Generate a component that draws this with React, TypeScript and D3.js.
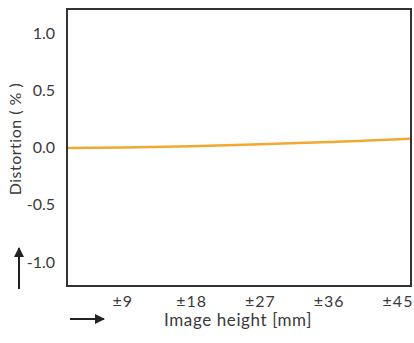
import React from "react";
import * as d3 from "d3";

const heights = [1.7, 9, 18, 27, 36, 45, 46.7];
const distortion = [-0.005, 0.0, 0.01, 0.028, 0.048, 0.072, 0.078];
const xTicks = [9, 18, 27, 36, 45];
const yTicks = [1.0, 0.5, 0.0, -0.5, -1.0];

const W = 414, H = 343;
const L = 67, R = 411, T = 9, B = 286;
const FONT = "Lato, 'Open Sans', sans-serif";
const TXT = "#3a3a3a";

export default function App() {
  const x = d3.scaleLinear().domain([1.7, 46.7]).range([L, R]);
  const y = d3.scaleLinear().domain([-1.21, 1.21]).range([B, T]);
  const line = d3.line<number>().x((_, i) => x(heights[i])).y((d) => y(d)).curve(d3.curveMonotoneX);
  return (
    <svg width={W} height={H} style={{ position: "absolute", left: 0, top: 0, background: "#fff" }}>
      <defs>
        <marker id="ah" viewBox="0 0 10 10" refX="9" refY="5" markerWidth="5" markerHeight="5" orient="auto">
          <path d="M0,0 L10,5 L0,10 z" fill="#222" />
        </marker>
      </defs>
      <path d={line(distortion) || ""} fill="none" stroke="#f3a832" strokeWidth={2.5} />
      <rect x={L} y={T} width={R - L} height={B - T} fill="none" stroke="#333" strokeWidth={2} />
      {yTicks.map((t) => (
        <text key={t} x={55} y={y(t)} dy="0.36em" textAnchor="end" fontFamily={FONT} fontSize={16} fill={TXT}>
          {t === 0 ? "0.0" : t.toFixed(1)}
        </text>
      ))}
      {xTicks.map((t) => (
        <text key={t} x={x(t)} y={307} textAnchor="middle" fontFamily={FONT} fontSize={16} fill={TXT} letterSpacing={1}>
          {"±" + t}
        </text>
      ))}
      <text x={238} y={326} textAnchor="middle" fontFamily={FONT} fontSize={17} fill={TXT} letterSpacing={0.6}>
        Image height [mm]
      </text>
      <line x1={70} y1={319} x2={104} y2={319} stroke="#222" strokeWidth={2} markerEnd="url(#ah)" />
      <text transform="translate(21,139) rotate(-90)" textAnchor="middle" fontFamily={FONT} fontSize={16} fill={TXT} letterSpacing={0.5}>
        Distortion ( % )
      </text>
      <line x1={19} y1={289} x2={19} y2={248} stroke="#222" strokeWidth={2} markerEnd="url(#ah)" />
    </svg>
  );
}
